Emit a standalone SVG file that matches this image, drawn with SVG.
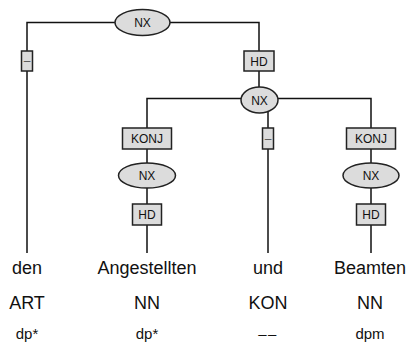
<svg xmlns="http://www.w3.org/2000/svg" width="409" height="347" viewBox="0 0 409 347">
<style>
.e{fill:#dcdcdc;stroke:#222;stroke-width:1.5}
.b{fill:#dcdcdc;stroke:#222;stroke-width:1.5}
.l{fill:none;stroke:#111;stroke-width:1.5}
.t{font-family:"Liberation Sans",Arial,sans-serif;font-size:12px;fill:#111;text-anchor:middle}
.d{font-family:"Liberation Sans",Arial,sans-serif;font-size:12px;fill:#555;text-anchor:middle}
.w{font-family:"Liberation Sans",Arial,sans-serif;font-size:18px;fill:#111;text-anchor:middle}
.m{font-family:"Liberation Sans",Arial,sans-serif;font-size:15px;fill:#111;text-anchor:middle}
</style>
<rect width="409" height="347" fill="#fff"/>
<g id="connectors">
<polyline class="l" points="27,253 27,22.5 259,22.5 259,87"/>
<polyline class="l" points="147,253 147,98.5 371,98.5 371,253"/>
<line class="l" x1="268" y1="110" x2="268" y2="253"/>
</g>
<g id="nx-top"><ellipse class="e" cx="142.5" cy="22.5" rx="27.5" ry="13"/><text class="t" x="142.5" y="27">NX</text></g>
<g id="edge-left"><rect class="b" x="21.5" y="51" width="11" height="20"/><text class="d" x="27" y="65">–</text></g>
<g id="hd-top"><rect class="b" x="244" y="51" width="30" height="20"/><text class="t" x="259" y="65.5">HD</text></g>
<g id="nx-mid"><ellipse class="e" cx="259.5" cy="100" rx="18.5" ry="13"/><text class="t" x="259.5" y="104.5">NX</text></g>
<g id="konj-left"><rect class="b" x="122.5" y="128" width="49" height="21"/><text class="t" x="147" y="142.5">KONJ</text></g>
<g id="edge-mid"><rect class="b" x="262.5" y="128" width="11" height="21"/><text class="d" x="268" y="142.5">–</text></g>
<g id="konj-right"><rect class="b" x="346.5" y="128" width="49" height="21"/><text class="t" x="371" y="142.5">KONJ</text></g>
<g id="nx-left"><ellipse class="e" cx="147" cy="175.5" rx="28.5" ry="12.5"/><text class="t" x="147" y="180">NX</text></g>
<g id="nx-right"><ellipse class="e" cx="371" cy="175.5" rx="28" ry="12.5"/><text class="t" x="371" y="180">NX</text></g>
<g id="hd-left"><rect class="b" x="132.5" y="204" width="29" height="21"/><text class="t" x="147" y="218.5">HD</text></g>
<g id="hd-right"><rect class="b" x="356.5" y="204" width="29" height="21"/><text class="t" x="371" y="218.5">HD</text></g>
<g id="words">
<text class="w" x="27" y="274">den</text>
<text class="w" x="147" y="274">Angestellten</text>
<text class="w" x="268" y="274">und</text>
<text class="w" x="370" y="274">Beamten</text>
<text class="w" x="27" y="309">ART</text>
<text class="w" x="147" y="309">NN</text>
<text class="w" x="268" y="309">KON</text>
<text class="w" x="370" y="309">NN</text>
<text class="m" x="27" y="339">dp*</text>
<text class="m" x="147" y="339">dp*</text>
<text class="m" x="268" y="339" letter-spacing="1.5">––</text>
<text class="m" x="370" y="339">dpm</text>
</g>
</svg>
